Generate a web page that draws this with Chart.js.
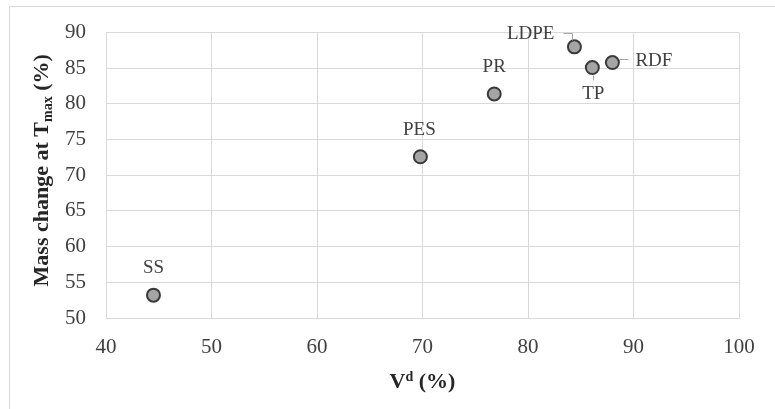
<!DOCTYPE html>
<html>
<head>
<meta charset="utf-8">
<script src="https://cdn.jsdelivr.net/npm/chart.js@4/dist/chart.umd.min.js"></script>
<style>
  html, body { margin: 0; padding: 0; background: #fff; }
  #wrap { width: 775px; height: 409px; }
</style>
</head>
<body>
<div id="wrap"><canvas id="chart" width="775" height="409"></canvas></div>
<script>
// data
const samples = ['SS', 'PES', 'PR', 'LDPE', 'TP', 'RDF'];
const vdValues = [44.5, 69.8, 76.8, 84.4, 86.1, 88.0];
const massChange = [53.2, 72.6, 81.4, 88.0, 85.1, 85.8];
const xTicks = [40, 50, 60, 70, 80, 90, 100];
const yTicks = [50, 55, 60, 65, 70, 75, 80, 85, 90];

// where each point label goes relative to its marker
const labelPlacement = {
    SS:   { dx: 0, dy: -27, align: 'center' },
    PES:  { dx: -1, dy: -27, align: 'center' },
    PR:   { dx: 0, dy: -27, align: 'center' },
    LDPE: { dx: -20, dy: -13, align: 'right', leader: [[-11, -14], [-2, -14], [-2, -7]] },
    TP:   { dx: 1, dy: 26, align: 'center', leader: [[1, 7], [1, 12]] },
    RDF:  { dx: 23, dy: -1.5, align: 'left', leader: [[7, -4], [16, -4]] }
};

const serif = '"Liberation Serif", "Times New Roman", serif';

const pointLabels = {
    id: 'pointLabels',
    afterDatasetsDraw(chart) {
        const ctx = chart.ctx;
        const meta = chart.getDatasetMeta(0);
        ctx.save();
        meta.data.forEach((pt, i) => {
            const p = labelPlacement[samples[i]];
            if (p.leader) {
                ctx.strokeStyle = '#a6a6a6';
                ctx.lineWidth = 1;
                ctx.beginPath();
                p.leader.forEach(([lx, ly], k) => {
                    const fn = k === 0 ? 'moveTo' : 'lineTo';
                    ctx[fn](Math.round(pt.x + lx) + 0.5, Math.round(pt.y + ly) + 0.5);
                });
                ctx.stroke();
            }
            ctx.fillStyle = '#404040';
            ctx.font = '19px ' + serif;
            ctx.textAlign = p.align;
            ctx.textBaseline = 'middle';
            ctx.fillText(samples[i], pt.x + p.dx, pt.y + p.dy);
        });
        ctx.restore();
    }
};

// axis titles with sub/superscripts, plus the outer frame
const axisTitles = {
    id: 'axisTitles',
    beforeDraw(chart) {
        const ctx = chart.ctx;
        ctx.save();
        ctx.strokeStyle = '#d9d9d9';
        ctx.lineWidth = 1;
        ctx.strokeRect(9.5, 6.5, 800, 500);
        ctx.restore();
    },
    afterDraw(chart) {
        const ctx = chart.ctx;
        const area = chart.chartArea;
        const big = 'bold 22px ' + serif;
        const small = 'bold 14px ' + serif;
        ctx.save();
        ctx.fillStyle = '#262626';
        ctx.textBaseline = 'alphabetic';
        ctx.textAlign = 'left';

        // x title: V^d (%)
        const xParts = [['V', big, 0], ['d', small, -7], [' (%)', big, 0]];
        let w = 0;
        xParts.forEach(([t, f]) => { ctx.font = f; w += ctx.measureText(t).width; });
        let x = (area.left + area.right) / 2 - w / 2;
        const yBase = 388;
        xParts.forEach(([t, f, off]) => {
            ctx.font = f;
            ctx.fillText(t, x, yBase + off);
            x += ctx.measureText(t).width;
        });

        // y title: Mass change at T_max (%)
        const yParts = [['Mass change at T', big, 0], ['max', small, 4], [' (%)', big, 0]];
        w = 0;
        yParts.forEach(([t, f]) => { ctx.font = f; w += ctx.measureText(t).width; });
        ctx.translate(48, (area.top + area.bottom) / 2 - 5);
        ctx.rotate(-Math.PI / 2);
        x = -w / 2;
        yParts.forEach(([t, f, off]) => {
            ctx.font = f;
            ctx.fillText(t, x, off);
            x += ctx.measureText(t).width;
        });
        ctx.restore();
    }
};

new Chart(document.getElementById('chart'), {
    type: 'scatter',
    data: {
        datasets: [{
            label: 'Samples',
            data: vdValues.map((v, i) => ({ x: v, y: massChange[i] })),
            pointRadius: 6.5,
            pointHoverRadius: 6.5,
            pointBorderWidth: 2,
            backgroundColor: '#a5a5a5',
            borderColor: '#3a3a3a'
        }]
    },
    options: {
        responsive: false,
        animation: false,
        layout: { padding: { left: 0, top: 28, right: 36, bottom: 0 } },
        plugins: {
            legend: { display: false },
            tooltip: { enabled: false }
        },
        scales: {
            x: {
                type: 'linear',
                min: xTicks[0],
                max: xTicks[xTicks.length - 1],
                afterBuildTicks: s => { s.ticks = xTicks.map(v => ({ value: v })); },
                afterFit: s => { s.height = 91; },
                grid: { color: '#d9d9d9', drawTicks: false },
                border: { color: '#d9d9d9' },
                ticks: { padding: 17, color: '#404040', font: { family: serif, size: 21 } }
            },
            y: {
                type: 'linear',
                min: yTicks[0],
                max: yTicks[yTicks.length - 1],
                afterBuildTicks: s => { s.ticks = yTicks.map(v => ({ value: v })); },
                afterFit: s => { s.width = 106; },
                grid: { color: '#d9d9d9', drawTicks: false },
                border: { color: '#d9d9d9' },
                ticks: { padding: 20, color: '#404040', font: { family: serif, size: 21 } }
            }
        }
    },
    plugins: [axisTitles, pointLabels]
});
</script>
</body>
</html>
